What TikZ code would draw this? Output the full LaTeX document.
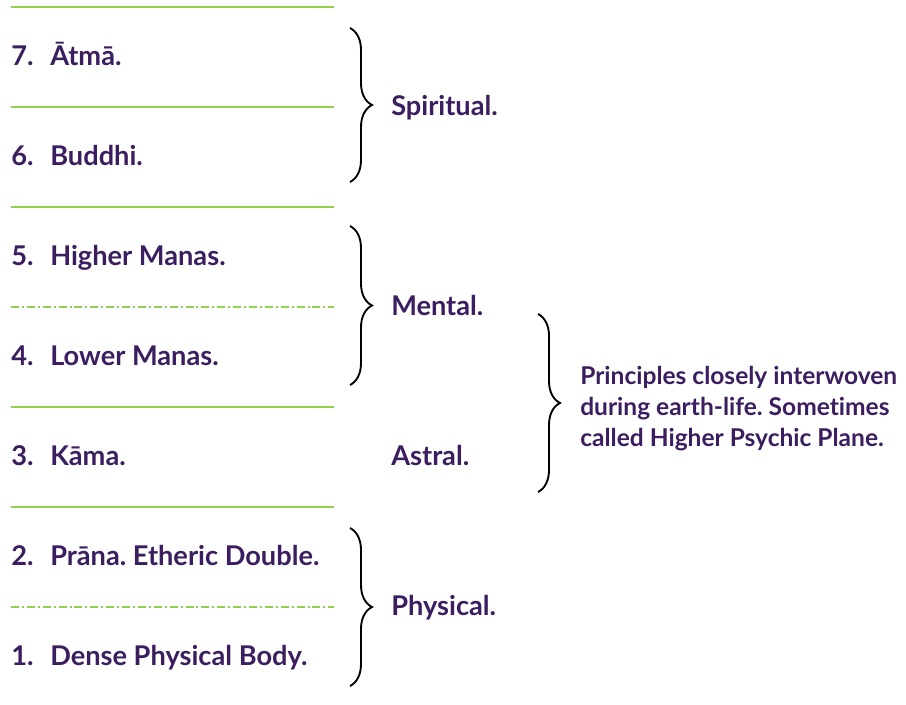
\documentclass[tikz,border=0pt]{standalone}
\usepackage{fontspec}
\setmainfont{Lato}[Ligatures=NoCommon]
\usetikzlibrary{decorations.pathreplacing}
\definecolor{plum}{HTML}{3B1E5F}
\definecolor{leaf}{HTML}{92D050}
\frenchspacing
\newcommand{\nr}[1]{\makebox[29.25pt][l]{#1}}
\tikzset{
  plane/.style={line width=2.2pt,leaf},
  subplane/.style={plane,line width=2pt,dash pattern=on 6pt off 2.2pt on 1.5pt off 2.2pt},
  principle/.style={anchor=base west,inner sep=0pt,text=plum,font=\bfseries\fontsize{20.4}{24}\selectfont},
  curly/.style={decorate,decoration={brace,amplitude=16.5pt},line width=1.4pt}
}
\begin{document}
\begin{tikzpicture}[x=0.75pt,y=-0.75pt]
\useasboundingbox (0,0) rectangle (906,704);
% DIVIDING LINES
\foreach \y in {7,107,207,407,507}
  \draw [plane] (11,\y) -- (334,\y);
\foreach \y in {307,607}
  \draw [subplane] (11,\y) -- (334,\y);
% PRINCIPLES
\node [principle] (p7) at (11,65) {\nr{7.}Ātmā.};
\node [principle] (p6) at (11,165) {\nr{6.}Buddhi.};
\node [principle] (p5) at (11,265) {\nr{5.}Higher Manas.};
\node [principle] (p4) at (11,365) {\nr{4.}Lower Manas.};
\node [principle] (p3) at (11,465) {\nr{3.}Kāma.};
\node [principle] (p2) at (11,565) {\nr{2.}Prāna. Etheric Double.};
\node [principle] (p1) at (11,665) {\nr{1.}Dense Physical Body.};
% BRACE ENDS
\coordinate (s top) at (350,28);
\coordinate (s bot) at (350,182);
\coordinate (m top) at (350,226);
\coordinate (m bot) at (350,385);
\coordinate (ph top) at (350,528);
\coordinate (ph bot) at (350,686);
\coordinate (n top) at (538,314);
\coordinate (n bot) at (538,492);
% BRACES
\draw [curly] (s top) -- (s bot);
\draw [curly] (m top) -- (m bot);
\draw [curly] (ph top) -- (ph bot);
\draw [curly] (n top) -- (n bot);
% GROUP LABELS
\node [principle] (spiritual) at (391,115) {Spiritual.};
\node [principle] (mental) at (391,315) {Mental.};
\node [principle] (astral) at (391,465) {Astral.};
\node [principle] (physical) at (391,615) {Physical.};
\node [principle,anchor=west,align=left,font=\bfseries\fontsize{18.4}{23.25}\selectfont] (note) at (580,409)
  {Principles closely interwoven\\during earth-life. Sometimes\\called Higher Psychic Plane.};
\end{tikzpicture}
\end{document}
